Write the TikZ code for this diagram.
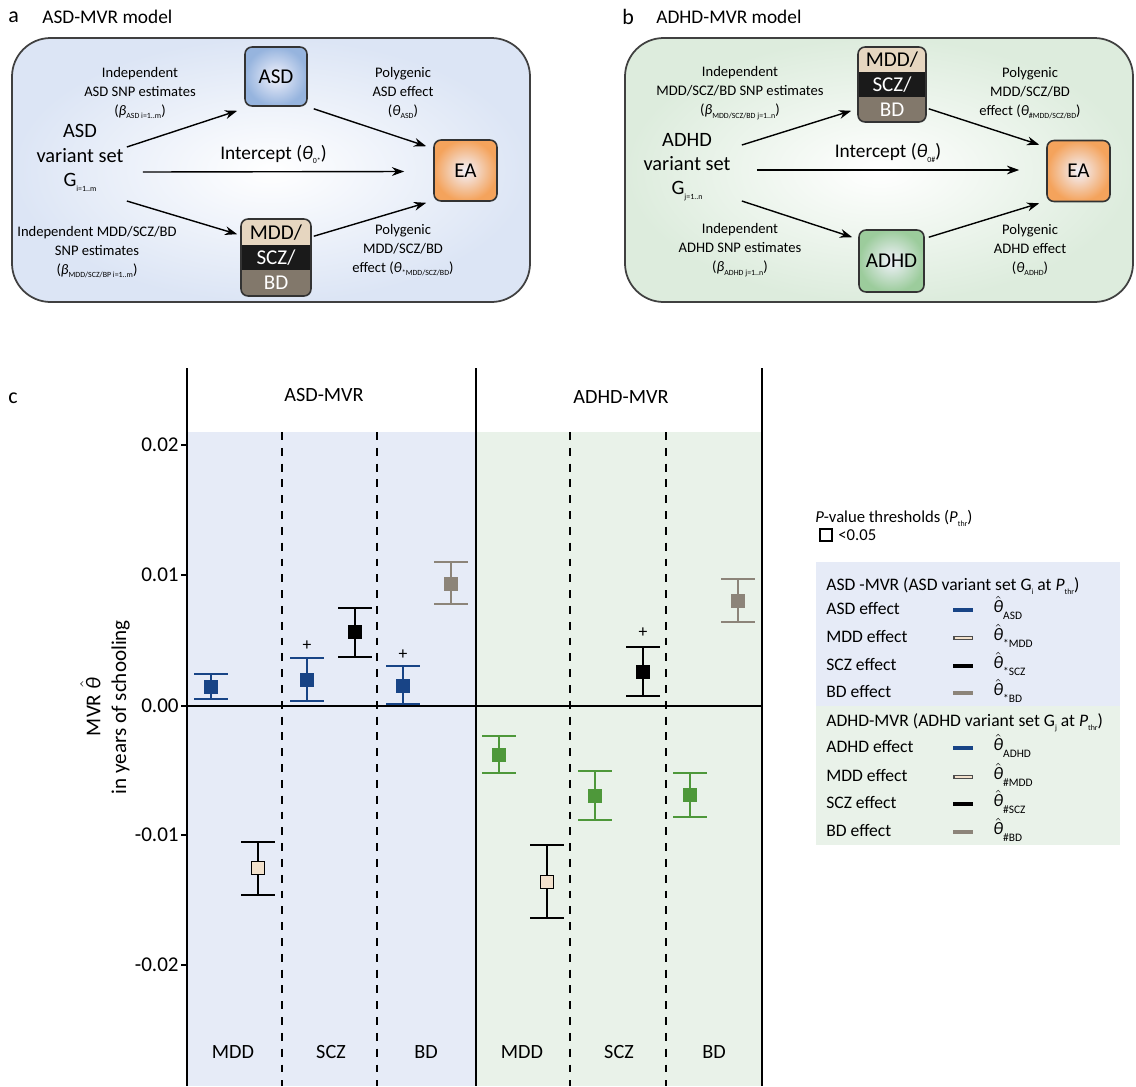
\documentclass[tikz,border=0pt]{standalone}
\usepackage{fontspec}
\setmainfont{Carlito}
\usepackage{amsmath}
\usepackage{xcolor}
\usetikzlibrary{arrows.meta, calc, positioning}

\definecolor{asdblue}{RGB}{24,68,134}
\definecolor{adhdgreen}{RGB}{78,152,58}
\definecolor{mddbeige}{RGB}{242,225,204}
\definecolor{bdgray}{RGB}{140,132,121}
\definecolor{plotblue}{RGB}{230,235,247}
\definecolor{plotgreen}{RGB}{233,242,233}
\definecolor{panelblue}{RGB}{220,229,245}
\definecolor{panelgreen}{RGB}{221,236,221}
\definecolor{boxblue}{RGB}{150,180,222}
\definecolor{boxorange}{RGB}{244,163,92}
\definecolor{boxgreen}{RGB}{156,204,156}
\definecolor{boxcore}{RGB}{242,242,252}
\definecolor{stacktop}{RGB}{230,214,192}
\definecolor{stackmid}{RGB}{26,26,26}
\definecolor{stackbot}{RGB}{130,120,107}

\newcommand{\lowtxt}[1]{\raisebox{-0.5ex}{\fontsize{4.5}{5}\selectfont #1}}
\newcommand{\legsub}[1]{\raisebox{-0.85ex}{\fontsize{6.5}{7}\selectfont #1}}
\newcommand{\thhat}{\ensuremath{\hat{\mbox{\itshape θ}}}}

\tikzset{
  every node/.style={inner sep=0pt},
  ptag/.style={anchor=west, font=\fontsize{12.5}{14}\selectfont},
  ptitle/.style={anchor=west, font=\fontsize{11}{13}\selectfont},
  model/.style={rounded corners=22pt, draw=black!75, line width=1pt},
  arr/.style={-{Stealth[length=7pt,width=5pt]}, line width=0.8pt},
  notetxt/.style={align=center, font=\fontsize{8.3}{10.8}\selectfont},
  varset/.style={align=center, font=\fontsize{11.6}{13.9}\selectfont},
  effbox/.style={draw=black!80, line width=0.9pt, rounded corners=4pt,
    font=\fontsize{12}{14}\selectfont},
  eabox/.style={effbox, inner color=boxcore, outer color=boxorange,
    minimum width=1.26cm, minimum height=1.22cm},
  stackbox/.style={effbox, align=center, font=\fontsize{12}{14.3}\selectfont,
    path picture={
      \coordinate (nw) at (path picture bounding box.north west);
      \coordinate (se) at (path picture bounding box.south east);
      \coordinate (s1) at ($(nw)!1/3!(se)$);
      \coordinate (s2) at ($(nw)!2/3!(se)$);
      \fill[stacktop, sharp corners] (nw) rectangle (se |- s1);
      \fill[stackmid, sharp corners] (nw |- s1) rectangle (se |- s2);
      \fill[stackbot, sharp corners] (nw |- s2) rectangle (se);
    }},
  ebar/.style={line width=1.5pt},
  axisline/.style={line width=0.9pt},
  divider/.style={line width=0.8pt, dash pattern=on 4.5pt off 4.5pt},
  plotlab/.style={font=\fontsize{11.5}{13}\selectfont},
  ticklab/.style={anchor=east, font=\fontsize{12}{14}\selectfont},
  legtxt/.style={anchor=west, font=\fontsize{10}{12}\selectfont},
  legline/.style={line width=2.3pt}
}

\begin{document}
\begin{tikzpicture}[x=0.02cm, y=-0.02cm]
  \useasboundingbox (0,0) rectangle (1136,1086);
  % --- Panel a: ASD-MVR model ---
  \node[ptag] (tagA) at (8,17) {a};
  \node[ptitle] (titleA) at (42,17) {ASD-MVR model};
  \shadedraw[model, inner color=white, outer color=panelblue] (12,38) rectangle (530,302);
  \node[effbox, inner color=boxcore, outer color=boxblue,
        minimum width=1.24cm, minimum height=1.18cm] (asdA) at (276,76.5) {ASD};
  \node[eabox] (eaA) at (465.5,170.5) {EA};
  \node[stackbox, minimum width=1.4cm, minimum height=1.54cm] (mixA) at (276,257.5)
    {MDD/\\\textcolor{white}{SCZ/}\\\textcolor{white}{BD}};
  \node[varset] (varA) at (80,158) {ASD\\variant set\\G\lowtxt{i=1..m}};
  \node[notetxt] (estA1) at (140,93)
    {Independent\\ASD SNP estimates\\({\itshape β}\lowtxt{ASD i=1..m})};
  \node[notetxt] (estA2) at (97,252)
    {Independent MDD/SCZ/BD\\SNP estimates\\({\itshape β}\lowtxt{MDD/SCZ/BP i=1..m})};
  \node[notetxt] (effA1) at (403,93) {Polygenic\\ASD effect\\({\itshape θ}\lowtxt{ASD})};
  \node[notetxt] (effA2) at (403,250)
    {Polygenic\\MDD/SCZ/BD\\effect ({\itshape θ}\lowtxt{*MDD/SCZ/BD})};
  % arrows of model a
  \draw[arr] ([shift={(3,-11)}]varA.east) -- ([shift={(-7,4)}]asdA.south west);
  \draw[arr] ([shift={(19,14)}]varA.east) -- ([shift={(-29,1)}]eaA.west)
    node[midway, above=4pt, font=\fontsize{11}{13}\selectfont] (icA)
    {Intercept ({\itshape θ}\lowtxt{0*})};
  \draw[arr] ([shift={(3,43)}]varA.east) -- ([shift={(-3,16)}]mixA.north west);
  \draw[arr] ([shift={(6,2)}]asdA.south east) -- ([shift={(-7,7)}]eaA.north west);
  \draw[arr] ([shift={(2,18)}]mixA.north east) -- ([shift={(-7,1)}]eaA.south west);

  % --- Panel b: ADHD-MVR model ---
  \node[ptag] (tagB) at (622,17) {b};
  \node[ptitle] (titleB) at (656,17) {ADHD-MVR model};
  \shadedraw[model, inner color=white, outer color=panelgreen] (625,38) rectangle (1133,302);
  \node[stackbox, minimum width=1.36cm, minimum height=1.5cm] (mixB) at (892,84.5)
    {MDD/\\\textcolor{white}{SCZ/}\\\textcolor{white}{BD}};
  \node[effbox, inner color=boxcore, outer color=boxgreen,
        minimum width=1.3cm, minimum height=1.24cm] (adhdB) at (891.5,261) {ADHD};
  \node[eabox] (eaB) at (1078.5,171) {EA};
  \node[varset] (varB) at (687,167) {ADHD\\variant set\\G\lowtxt{j=1..n}};
  \node[notetxt] (estB1) at (740,93)
    {Independent\\MDD/SCZ/BD SNP estimates\\({\itshape β}\lowtxt{MDD/SCZ/BD j=1..n})};
  \node[notetxt] (estB2) at (740,250)
    {Independent\\ADHD SNP estimates\\({\itshape β}\lowtxt{ADHD j=1..n})};
  \node[notetxt] (effB1) at (1030,93)
    {Polygenic\\MDD/SCZ/BD\\effect ({\itshape θ}\lowtxt{\#MDD/SCZ/BD})};
  \node[notetxt] (effB2) at (1030,250) {Polygenic\\ADHD effect\\({\itshape θ}\lowtxt{ADHD})};
  % arrows of model b
  \draw[arr] ([shift={(11,-22)}]varB.east) -- ([shift={(-6,-12)}]mixB.south west);
  \draw[arr] ([shift={(26,3)}]varB.east) -- ([shift={(-27,-1)}]eaB.west)
    node[midway, above=4pt, font=\fontsize{11}{13}\selectfont] (icB)
    {Intercept ({\itshape θ}\lowtxt{0\#})};
  \draw[arr] ([shift={(11,34)}]varB.east) -- ([shift={(-6,8)}]adhdB.north west);
  \draw[arr] ([shift={(2,-14)}]mixB.south east) -- ([shift={(-7,5)}]eaB.north west);
  \draw[arr] ([shift={(4,8)}]adhdB.north east) -- ([shift={(-7,1)}]eaB.south west);

  % --- Panel c: MVR estimates ---
  \node[ptag] (tagC) at (8,398) {c};
  \fill[plotblue] (187,432) rectangle (476,1086);
  \fill[plotgreen] (476,432) rectangle (762,1086);
  \foreach \xx in {282,377,570,666}
    \draw[divider] (\xx,432) -- (\xx,1086);
  \foreach \xx in {187,476,762}
    \draw[axisline] (\xx,368) -- (\xx,1086);
  \draw[axisline] (181,706) -- (763,706);
  \foreach \vv/\yy in {0.02/445, 0.01/575, 0.00/706, -0.01/835, -0.02/965} {
    \draw[axisline] (181,\yy) -- (187,\yy);
    \node[ticklab] (tick\yy) at (179,\yy) {\vv};
  }
  \node[rotate=90, align=center, font=\fontsize{12}{14.7}\selectfont] (ylab) at (105,707)
    {MVR \thhat\\in years of schooling};
  \node[plotlab] (headA) at (324,395) {ASD-MVR};
  \node[plotlab] (headB) at (621,397) {ADHD-MVR};
  \foreach \nm/\xx in {MDD/233, SCZ/331, BD/426, MDD/522, SCZ/619, BD/714}
    \node[plotlab] (low\xx) at (\xx,1052) {\nm};
  % estimates: x / upper / point / lower / line colour / fill colour
  \foreach \xx/\ytop/\ymd/\ybot/\lc/\fc in {
      211/674/687/699/asdblue/asdblue, 258/842/868/895/black/mddbeige,
      307/658/680/701/asdblue/asdblue, 355/608/632/657/black/black,
      403/666/686/704/asdblue/asdblue, 451/562/584/604/bdgray/bdgray,
      499/736/755/773/adhdgreen/adhdgreen, 547/845/882/918/black/mddbeige,
      595/771/796/820/adhdgreen/adhdgreen, 643/647/672/696/black/black,
      690/773/795/817/adhdgreen/adhdgreen, 738/579/601/622/bdgray/bdgray} {
    \draw[ebar, \lc] (\xx-17,\ytop) -- (\xx+17,\ytop) (\xx,\ytop) -- (\xx,\ybot)
      (\xx-17,\ybot) -- (\xx+17,\ybot);
    \filldraw[\lc, fill=\fc, line width=1pt] (\xx-6.5,\ymd-6.5) rectangle (\xx+6.5,\ymd+6.5);
  }
  \node[font=\fontsize{10}{12}\selectfont] (plusA) at (307,646) {+};
  \node[font=\fontsize{10}{12}\selectfont] (plusB) at (403,655) {+};
  \node[font=\fontsize{10}{12}\selectfont] (plusC) at (643,633) {+};

  % --- Legend ---
  \node[legtxt, font=\fontsize{9.5}{11}\selectfont] (pthr) at (815,518)
    {\textit{P}-value thresholds (\textit{P}\lowtxt{thr})};
  \node[draw, line width=1pt, minimum size=0.25cm] (psq) at (826,535) {};
  \node[legtxt, font=\fontsize{9.5}{11}\selectfont] (plim) at (838,535) {<0.05};
  \fill[plotblue] (816,562) rectangle (1120,706);
  \fill[plotgreen] (816,706) rectangle (1120,845);
  \node[legtxt] (legA) at (826,586) {ASD -MVR (ASD variant set G\lowtxt{i} at \textit{P}\lowtxt{thr})};
  \node[legtxt] (legB) at (826,723) {ADHD-MVR (ADHD variant set G\lowtxt{j} at \textit{P}\lowtxt{thr})};
  \foreach \nm/\yy/\lc/\oc/\sb in {ASD/608/asdblue/asdblue/ASD, MDD/636/mddbeige/black!70/*MDD,
      SCZ/664/black/black/*SCZ, BD/691/bdgray/bdgray/*BD,
      ADHD/746/asdblue/asdblue/ADHD, MDD/775/mddbeige/black!70/\#MDD,
      SCZ/802/black/black/\#SCZ, BD/830/bdgray/bdgray/\#BD} {
    \node[legtxt] (leg\yy) at (826,\yy) {\nm\ effect};
    \draw[legline, \oc] (953,\yy+2) -- (973,\yy+2);
    \draw[line width=1.2pt, \lc] (954.5,\yy+2) -- (971.5,\yy+2);
    \node[legtxt] (th\yy) at (993,\yy) {\thhat\legsub{\sb}};
  }
\end{tikzpicture}
\end{document}
